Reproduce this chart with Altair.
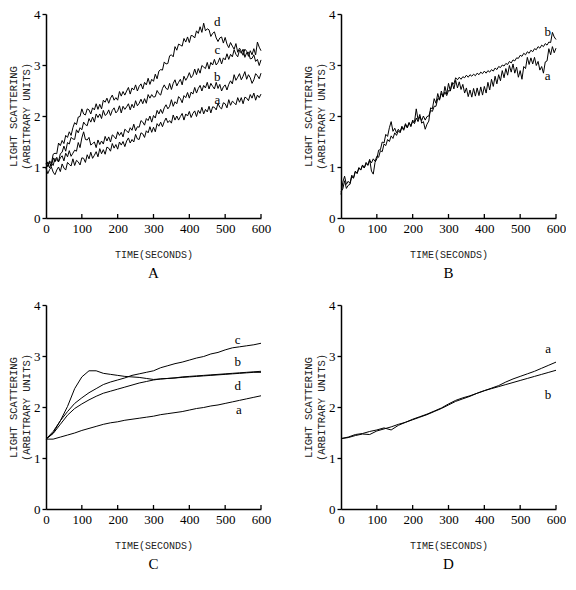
import altair as alt
import pandas as pd

# ---------------- data ----------------
T5 = list(range(0, 601, 5))      # sampling grid, panels A and B (seconds)
T20 = list(range(0, 601, 20))    # sampling grid, panels C and D (seconds)
X_TICKS = [0, 100, 200, 300, 400, 500, 600]
Y_TICKS = [0, 1, 2, 3, 4]

A_d = [1.07, 1.01, 1.12, 1.07, 1.25, 1.27, 1.26, 1.47, 1.42, 1.52,
       1.46, 1.62, 1.58, 1.69, 1.62, 1.77, 1.87, 1.83, 1.98, 1.99,
       2.14, 2.04, 2.02, 2.14, 2.12, 2.04, 2.16, 2.12, 2.24, 2.13,
       2.23, 2.14, 2.31, 2.27, 2.35, 2.25, 2.35, 2.41, 2.31, 2.36,
       2.31, 2.48, 2.39, 2.48, 2.41, 2.49, 2.56, 2.43, 2.55, 2.51,
       2.61, 2.49, 2.58, 2.63, 2.53, 2.66, 2.61, 2.74, 2.62, 2.72,
       2.68, 2.82, 2.73, 2.88, 2.91, 2.90, 3.06, 3.02, 3.03, 3.18,
       3.20, 3.16, 3.36, 3.29, 3.41, 3.39, 3.37, 3.52, 3.45, 3.55,
       3.44, 3.58, 3.57, 3.53, 3.67, 3.62, 3.75, 3.64, 3.82, 3.67,
       3.71, 3.69, 3.56, 3.62, 3.65, 3.53, 3.46, 3.53, 3.55, 3.43,
       3.54, 3.41, 3.34, 3.44, 3.37, 3.31, 3.42, 3.25, 3.33, 3.27,
       3.19, 3.31, 3.27, 3.17, 3.28, 3.20, 3.32, 3.20, 3.45, 3.35,
       3.28]
A_c = [0.97, 1.10, 0.98, 1.07, 1.03, 1.17, 1.13, 1.11, 1.26, 1.29,
       1.41, 1.31, 1.48, 1.45, 1.58, 1.55, 1.54, 1.73, 1.67, 1.77,
       1.73, 1.88, 1.83, 1.81, 1.95, 1.88, 1.98, 1.88, 2.04, 1.97,
       2.04, 1.95, 2.11, 2.01, 2.04, 2.12, 2.01, 2.11, 2.16, 2.06,
       2.10, 2.20, 2.06, 2.19, 2.13, 2.18, 2.24, 2.12, 2.23, 2.16,
       2.30, 2.20, 2.25, 2.33, 2.24, 2.34, 2.25, 2.42, 2.35, 2.42,
       2.37, 2.38, 2.50, 2.44, 2.41, 2.54, 2.61, 2.54, 2.52, 2.64,
       2.52, 2.64, 2.71, 2.59, 2.66, 2.72, 2.61, 2.78, 2.70, 2.76,
       2.85, 2.75, 2.80, 2.92, 2.81, 2.93, 2.84, 2.99, 2.96, 2.93,
       3.05, 2.92, 3.05, 3.00, 3.11, 3.00, 3.05, 3.14, 3.02, 3.14,
       3.10, 3.22, 3.11, 3.21, 3.16, 3.30, 3.21, 3.16, 3.29, 3.23,
       3.31, 3.15, 3.24, 3.25, 3.12, 3.13, 3.20, 3.07, 3.11, 2.99,
       3.10]
A_b = [1.06, 1.01, 1.09, 1.01, 1.18, 1.10, 1.19, 1.10, 1.18, 1.22,
       1.12, 1.27, 1.20, 1.32, 1.21, 1.27, 1.33, 1.31, 1.48, 1.38,
       1.57, 1.69, 1.54, 1.53, 1.58, 1.43, 1.46, 1.49, 1.38, 1.53,
       1.44, 1.51, 1.45, 1.60, 1.51, 1.59, 1.49, 1.63, 1.60, 1.55,
       1.69, 1.62, 1.68, 1.59, 1.74, 1.71, 1.67, 1.77, 1.72, 1.84,
       1.71, 1.79, 1.78, 1.91, 1.88, 1.82, 1.95, 1.91, 2.00, 1.88,
       2.01, 1.96, 2.11, 2.04, 2.13, 2.05, 2.16, 2.22, 2.14, 2.19,
       2.32, 2.19, 2.28, 2.24, 2.38, 2.34, 2.26, 2.40, 2.36, 2.46,
       2.35, 2.47, 2.43, 2.56, 2.45, 2.54, 2.60, 2.49, 2.60, 2.55,
       2.66, 2.53, 2.64, 2.58, 2.53, 2.66, 2.54, 2.62, 2.49, 2.57,
       2.61, 2.51, 2.62, 2.69, 2.63, 2.81, 2.70, 2.76, 2.83, 2.71,
       2.78, 2.87, 2.72, 2.81, 2.75, 2.64, 2.71, 2.83, 2.79, 2.73,
       2.84]
A_a = [0.97, 0.87, 0.95, 1.00, 0.90, 0.85, 0.94, 1.00, 0.91, 1.06,
       0.98, 0.94, 1.09, 1.05, 1.02, 1.16, 1.03, 1.13, 1.10, 1.04,
       1.18, 1.17, 1.09, 1.24, 1.16, 1.29, 1.17, 1.23, 1.30, 1.20,
       1.36, 1.26, 1.34, 1.25, 1.39, 1.37, 1.31, 1.46, 1.37, 1.44,
       1.35, 1.49, 1.43, 1.50, 1.40, 1.51, 1.57, 1.47, 1.54, 1.49,
       1.64, 1.55, 1.54, 1.67, 1.65, 1.58, 1.71, 1.67, 1.79, 1.68,
       1.78, 1.69, 1.85, 1.80, 1.88, 1.79, 1.89, 1.96, 1.87, 1.91,
       1.86, 2.02, 1.92, 2.00, 1.92, 1.99, 2.05, 1.92, 2.04, 2.00,
       2.09, 1.97, 2.05, 2.10, 1.99, 2.11, 2.05, 2.17, 2.04, 2.13,
       2.08, 2.19, 2.06, 2.18, 2.17, 2.12, 2.25, 2.17, 2.14, 2.26,
       2.24, 2.16, 2.32, 2.21, 2.29, 2.26, 2.22, 2.36, 2.27, 2.36,
       2.24, 2.37, 2.35, 2.30, 2.42, 2.35, 2.45, 2.31, 2.41, 2.36,
       2.43]

B_a = [0.46, 0.70, 0.82, 0.66, 0.72, 0.68, 0.84, 0.79, 0.92, 0.87,
       0.99, 0.94, 1.04, 0.98, 1.09, 1.04, 1.15, 0.92, 0.86, 1.09,
       1.16, 1.33, 1.34, 1.49, 1.47, 1.64, 1.60, 1.77, 1.89, 1.70,
       1.76, 1.67, 1.74, 1.69, 1.80, 1.74, 1.85, 1.77, 1.87, 1.79,
       1.92, 1.88, 2.14, 1.93, 2.03, 1.86, 1.89, 1.74, 1.84, 1.90,
       2.16, 2.14, 2.34, 2.25, 2.44, 2.31, 2.49, 2.37, 2.58, 2.43,
       2.64, 2.49, 2.66, 2.53, 2.70, 2.55, 2.67, 2.52, 2.62, 2.45,
       2.55, 2.38, 2.51, 2.37, 2.54, 2.39, 2.55, 2.40, 2.57, 2.41,
       2.58, 2.45, 2.66, 2.51, 2.72, 2.58, 2.78, 2.63, 2.81, 2.69,
       2.89, 2.75, 2.93, 2.80, 2.99, 2.86, 3.02, 2.84, 2.96, 2.76,
       2.89, 2.72, 2.97, 2.93, 3.15, 3.01, 3.14, 3.02, 3.15, 2.99,
       3.07, 2.90, 2.97, 2.84, 3.06, 3.08, 3.32, 3.20, 3.36, 3.24,
       3.33]
B_b = [0.52, 0.57, 0.73, 0.58, 0.64, 0.66, 0.81, 0.78, 0.91, 0.88,
       0.98, 0.94, 1.03, 0.98, 1.07, 1.03, 1.13, 1.08, 1.16, 1.11,
       1.21, 1.19, 1.32, 1.30, 1.45, 1.42, 1.54, 1.50, 1.61, 1.56,
       1.67, 1.62, 1.71, 1.67, 1.78, 1.72, 1.83, 1.77, 1.87, 1.81,
       1.90, 1.85, 1.96, 1.89, 1.99, 1.91, 2.00, 1.92, 1.99, 2.00,
       2.11, 2.09, 2.19, 2.19, 2.34, 2.33, 2.44, 2.38, 2.47, 2.40,
       2.50, 2.49, 2.64, 2.63, 2.75, 2.71, 2.76, 2.72, 2.77, 2.75,
       2.80, 2.76, 2.81, 2.78, 2.82, 2.79, 2.84, 2.81, 2.86, 2.83,
       2.88, 2.84, 2.89, 2.86, 2.91, 2.88, 2.94, 2.91, 2.97, 2.95,
       3.00, 2.98, 3.03, 3.01, 3.07, 3.04, 3.10, 3.08, 3.14, 3.13,
       3.19, 3.17, 3.23, 3.20, 3.26, 3.23, 3.29, 3.26, 3.32, 3.30,
       3.36, 3.33, 3.39, 3.36, 3.42, 3.39, 3.45, 3.44, 3.64, 3.55,
       3.50]

C_a = [1.37, 1.37, 1.41, 1.45, 1.49, 1.54, 1.58, 1.62, 1.66, 1.69,
       1.71, 1.74, 1.76, 1.78, 1.80, 1.82, 1.85, 1.87, 1.89, 1.91,
       1.94, 1.97, 1.99, 2.02, 2.04, 2.07, 2.10, 2.13, 2.16, 2.19,
       2.22]
C_b = [1.37, 1.49, 1.73, 2.01, 2.36, 2.59, 2.71, 2.71, 2.66, 2.64,
       2.62, 2.60, 2.59, 2.58, 2.56, 2.54, 2.55, 2.56, 2.57, 2.58,
       2.59, 2.60, 2.61, 2.62, 2.63, 2.64, 2.65, 2.66, 2.67, 2.68,
       2.68]
C_c = [1.37, 1.52, 1.73, 1.91, 2.07, 2.18, 2.28, 2.36, 2.44, 2.49,
       2.53, 2.57, 2.62, 2.65, 2.68, 2.71, 2.77, 2.81, 2.85, 2.88,
       2.92, 2.96, 2.99, 3.04, 3.07, 3.12, 3.16, 3.18, 3.20, 3.22,
       3.25]
C_d = [1.37, 1.48, 1.66, 1.84, 1.97, 2.06, 2.14, 2.21, 2.27, 2.31,
       2.35, 2.39, 2.43, 2.47, 2.50, 2.53, 2.55, 2.56, 2.57, 2.59,
       2.60, 2.61, 2.62, 2.63, 2.64, 2.65, 2.66, 2.67, 2.68, 2.69,
       2.70]

D_a = [1.38, 1.40, 1.44, 1.47, 1.46, 1.53, 1.57, 1.61, 1.66, 1.70,
       1.75, 1.80, 1.85, 1.91, 1.97, 2.04, 2.11, 2.16, 2.21, 2.27,
       2.32, 2.37, 2.42, 2.49, 2.55, 2.60, 2.65, 2.70, 2.76, 2.82,
       2.88]
D_b = [1.38, 1.41, 1.46, 1.48, 1.52, 1.55, 1.59, 1.55, 1.64, 1.70,
       1.76, 1.81, 1.86, 1.92, 1.98, 2.06, 2.13, 2.18, 2.22, 2.27,
       2.32, 2.36, 2.40, 2.44, 2.48, 2.52, 2.56, 2.60, 2.64, 2.68,
       2.72]

# curve labels: (name, time, value)
A_labels = [("d", 478, 3.84), ("c", 478, 3.29), ("b", 478, 2.76), ("a", 478, 2.31)]
B_labels = [("b", 577, 3.65), ("a", 577, 2.78)]
C_labels = [("c", 535, 3.32), ("b", 535, 2.88), ("d", 535, 2.41), ("a", 538, 1.94)]
D_labels = [("a", 578, 3.13), ("b", 578, 2.24)]

# ---------------- chart ----------------
W, H = 215, 204
SERIF = "Liberation Serif"
MONO = "Liberation Mono"

X_ENC = alt.X("t:Q", scale=alt.Scale(domain=[0, 600], nice=False),
              axis=alt.Axis(values=X_TICKS, title="TIME(SECONDS)"))
Y_ENC = alt.Y("v:Q", scale=alt.Scale(domain=[0, 4], nice=False),
              axis=alt.Axis(values=Y_TICKS, title=["LIGHT SCATTERING", "(ARBITRARY UNITS)"]))


def long_df(t, series):
    rows = []
    for name, vals in series.items():
        assert len(vals) == len(t), (name, len(vals))
        for ti, v in zip(t, vals):
            rows.append({"t": ti, "v": v, "s": name})
    return pd.DataFrame(rows)


def panel(t, series, labels, letter):
    df = long_df(t, series)
    lines = alt.Chart(df).mark_line(color="black", strokeWidth=1).encode(
        x=X_ENC, y=Y_ENC, detail="s:N", order="t:Q",
    )
    ticks = alt.Chart(pd.DataFrame({"t": X_TICKS[1:]})).mark_rule(
        color="black", strokeWidth=1.3
    ).encode(x=X_ENC, y=alt.value(H), y2=alt.value(H - 4))
    lab_df = pd.DataFrame(labels, columns=["s", "t", "v"])
    text = alt.Chart(lab_df).mark_text(font=SERIF, fontSize=13, color="black").encode(
        x=X_ENC, y=Y_ENC, text="s:N",
    )
    return alt.layer(lines, ticks, text).properties(
        width=W, height=H,
        title=alt.TitleParams(text=letter, orient="bottom", font=SERIF, fontSize=15,
                              fontWeight="normal", color="black", offset=7),
    )


pA = panel(T5, {"a": A_a, "b": A_b, "c": A_c, "d": A_d}, A_labels, "A")
pB = panel(T5, {"a": B_a, "b": B_b}, B_labels, "B")
pC = panel(T20, {"a": C_a, "b": C_b, "c": C_c, "d": C_d}, C_labels, "C")
pD = panel(T20, {"a": D_a, "b": D_b}, D_labels, "D")

chart = alt.vconcat(
    alt.hconcat(pA, pB, spacing=32),
    alt.hconcat(pC, pD, spacing=32),
    spacing=18,
).properties(padding=0).configure_view(stroke=None).configure_axis(
    grid=False,
    domain=True,
    labels=True,
    domainColor="black",
    domainWidth=1.5,
    tickColor="black",
    tickWidth=1.3,
    labelFont=SERIF,
    labelFontSize=13,
    labelColor="black",
    titleFont=MONO,
    titleFontWeight="normal",
    titleColor="#222222",
).configure_axisX(
    ticks=False,
    labelPadding=4,
    labelFlush=False,
    titlePadding=14,
    titleFontSize=10,
).configure_axisY(
    ticks=True,
    tickSize=4,
    labelPadding=2,
    titlePadding=2,
    titleFontSize=10.5,
    titleLineHeight=13,
)

chart.save("out.html", embed_options={"renderer": "svg", "actions": False})
